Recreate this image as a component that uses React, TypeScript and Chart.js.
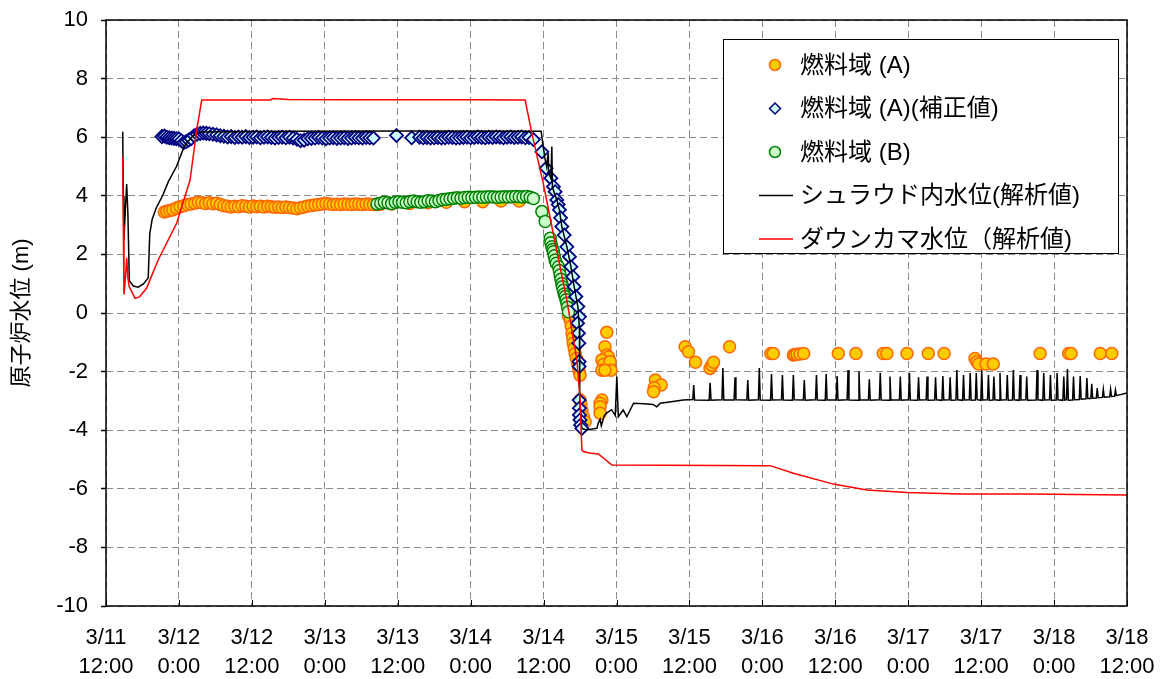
import { useEffect, useRef } from "react";
import { Chart, registerables } from "chart.js";

Chart.register(...registerables);

// x values are hours elapsed since 3/11 12:00
const xTickDates = ["3/11", "3/12", "3/12", "3/13", "3/13", "3/14", "3/14", "3/15", "3/15", "3/16", "3/16", "3/17", "3/17", "3/18", "3/18"];
const xTickTimes = ["12:00", "0:00", "12:00", "0:00", "12:00", "0:00", "12:00", "0:00", "12:00", "0:00", "12:00", "0:00", "12:00", "0:00", "12:00"];

const yAxisTitle = "原子炉水位 (m)";
const legendLabels = ["燃料域 (A)", "燃料域 (A)(補正値)", "燃料域 (B)", "シュラウド内水位(解析値)", "ダウンカマ水位（解析値)"];

// 燃料域 (A)
const fuelA: [number, number][] = [
  [9.6, 3.45], [10.0, 3.47], [10.5, 3.5], [11.0, 3.52], [11.6, 3.58], [12.2, 3.63], [12.8, 3.66], [13.4, 3.7],
  [14.0, 3.72], [14.6, 3.75], [15.2, 3.78], [15.8, 3.76], [16.4, 3.74], [17.0, 3.76], [17.6, 3.73], [18.2, 3.75],
  [18.8, 3.7], [19.4, 3.66], [20.0, 3.64], [20.6, 3.62], [21.2, 3.64], [21.8, 3.63], [22.4, 3.66], [23.0, 3.64],
  [23.6, 3.62], [24.2, 3.65], [24.8, 3.63], [25.4, 3.64], [26.0, 3.62], [26.6, 3.64], [27.2, 3.63], [27.8, 3.61],
  [28.4, 3.62], [29.0, 3.6], [29.6, 3.62], [30.2, 3.6], [30.8, 3.58], [31.4, 3.56], [32.0, 3.59], [32.6, 3.62],
  [33.2, 3.65], [33.8, 3.67], [34.4, 3.69], [35.0, 3.7], [35.6, 3.72], [36.2, 3.74], [36.8, 3.72], [37.4, 3.7],
  [38.0, 3.71], [38.6, 3.7], [39.2, 3.72], [39.8, 3.71], [40.4, 3.7], [41.0, 3.72], [41.6, 3.71], [42.2, 3.7],
  [42.8, 3.72], [43.4, 3.71], [44.0, 3.7], [44.6, 3.7], [45.2, 3.71], [47.0, 3.72], [50.0, 3.74], [53.0, 3.76],
  [56.0, 3.78], [59.0, 3.8], [62.0, 3.8], [65.0, 3.82], [68.0, 3.82],
  [76.1, -0.1], [76.4, -0.24], [76.55, -0.45], [76.7, -0.69], [76.8, -0.85], [76.9, -1.03], [77.05, -1.2],
  [77.2, -1.38], [77.4, -1.55], [77.6, -1.72], [77.75, -1.85], [77.86, -2.0], [78.0, -2.12],
  [78.0, -2.97], [78.15, -3.1], [78.3, -3.31], [78.57, -3.54], [78.84, -3.71],
  [82.4, -0.66], [82.1, -1.15], [82.4, -1.43], [82.7, -1.5], [81.6, -1.6], [81.9, -1.75], [82.96, -1.66],
  [81.6, -1.95], [83.1, -1.95], [82.1, -1.95],
  [81.6, -2.97], [81.3, -3.08], [81.3, -3.2], [81.3, -3.42],
  [90.4, -2.29], [91.35, -2.46], [90.2, -2.55], [90.1, -2.69],
  [95.3, -1.15], [95.85, -1.32], [97.0, -1.68], [99.4, -1.89], [99.7, -1.78], [99.97, -1.68], [102.6, -1.15],
  [109.4, -1.38], [109.8, -1.38], [113.1, -1.43], [113.4, -1.42], [113.7, -1.41], [114.2, -1.4], [114.8, -1.38],
  [120.5, -1.38], [123.4, -1.38], [127.9, -1.38], [128.5, -1.38], [131.8, -1.38], [135.3, -1.38], [137.9, -1.38],
  [143.0, -1.55], [143.3, -1.66], [143.6, -1.74], [144.8, -1.74], [146.0, -1.74],
  [153.7, -1.38], [158.4, -1.38], [158.8, -1.38], [163.6, -1.38], [165.5, -1.38],
];

// 燃料域 (A)(補正値)
const fuelACorrected: [number, number][] = [
  [9.2, 6.02], [9.6, 6.04], [10.0, 6.0], [10.4, 5.98], [10.8, 5.97], [11.2, 5.96], [11.6, 5.95], [12.0, 5.94],
  [12.4, 5.88], [12.8, 5.82], [13.2, 5.85], [13.6, 5.9], [14.0, 5.95], [14.5, 6.05], [15.0, 6.1], [15.5, 6.13],
  [16.0, 6.14], [16.5, 6.13], [17.0, 6.12], [17.6, 6.1], [18.2, 6.08], [18.8, 6.05], [19.4, 6.03], [20.0, 6.01],
  [20.6, 6.02], [21.2, 5.99], [21.8, 6.01], [22.4, 6.0], [23.0, 6.02], [23.6, 5.99], [24.2, 6.0], [24.8, 6.01],
  [25.4, 5.98], [26.0, 6.0], [26.6, 6.01], [27.2, 5.99], [27.8, 5.97], [28.4, 5.99], [29.0, 6.0], [29.6, 5.98],
  [30.2, 6.0], [30.8, 5.97], [31.4, 5.93], [32.0, 5.88], [32.6, 5.9], [33.2, 5.95], [33.8, 5.96], [34.4, 5.97],
  [35.0, 5.99], [35.6, 5.97], [36.2, 5.95], [36.8, 5.97], [37.4, 5.98], [38.0, 5.96], [38.6, 5.97], [39.2, 5.98],
  [39.8, 5.96], [40.4, 5.97], [41.0, 5.99], [41.6, 5.98], [42.2, 5.97], [42.8, 5.99], [43.4, 5.98], [44.0, 5.97],
  [47.8, 6.06], [50.3, 5.98], [51.6, 6.0], [52.2, 5.98], [52.8, 5.99], [53.4, 5.97], [54.0, 5.98], [54.6, 5.99],
  [55.2, 5.97], [55.8, 5.98], [56.4, 6.0], [57.0, 5.99], [57.6, 5.97], [58.2, 5.98], [58.8, 5.99], [59.4, 6.0],
  [60.0, 5.98], [60.6, 5.99], [61.2, 6.01], [61.8, 5.99], [62.4, 5.98], [63.0, 6.0], [63.6, 5.99], [64.2, 6.01],
  [64.8, 6.0], [65.4, 5.98], [66.0, 6.0], [66.6, 6.01], [67.2, 5.99], [67.8, 6.0], [68.4, 6.01], [69.0, 5.98],
  [69.6, 5.99], [70.33, 5.92],
  [71.72, 5.5], [72.42, 4.94], [73.2, 4.6], [73.63, 4.31], [73.9, 4.14], [74.18, 3.86], [74.4, 3.7], [74.6, 3.52],
  [74.8, 3.25], [75.0, 2.95], [75.4, 2.66], [75.83, 2.26], [76.26, 1.92], [76.49, 1.58], [76.82, 1.24], [77.03, 0.9],
  [77.31, 0.56], [77.64, 0.22], [77.9, -0.13], [77.6, -0.35], [77.75, -0.69], [77.8, -1.03], [77.85, -1.66],
  [77.85, -1.83], [77.85, -2.97], [77.9, -3.25], [77.9, -3.48], [78.0, -3.65], [78.1, -3.82], [78.3, -3.94],
];

// 燃料域 (B)
const fuelB: [number, number][] = [
  [44.6, 3.72], [45.2, 3.75], [45.8, 3.78], [46.4, 3.76], [47.0, 3.74], [47.6, 3.78], [48.2, 3.8], [48.8, 3.78],
  [49.4, 3.76], [50.0, 3.8], [50.6, 3.82], [51.2, 3.8], [51.8, 3.78], [52.4, 3.8], [53.0, 3.83], [53.6, 3.82],
  [54.2, 3.8], [54.8, 3.84], [55.4, 3.87], [56.0, 3.88], [56.6, 3.9], [57.2, 3.92], [57.8, 3.93], [58.4, 3.92],
  [59.0, 3.94], [59.6, 3.95], [60.2, 3.94], [60.8, 3.95], [61.4, 3.96], [62.0, 3.95], [62.6, 3.96], [63.2, 3.97],
  [63.8, 3.96], [64.4, 3.95], [65.0, 3.96], [65.6, 3.97], [66.2, 3.96], [66.8, 3.97], [67.4, 3.98], [68.0, 3.97],
  [68.6, 3.96], [69.2, 3.98], [69.8, 3.95], [70.33, 3.91],
  [71.72, 3.46], [72.26, 3.12], [73.1, 2.55], [73.2, 2.4], [73.36, 2.26], [73.5, 2.17], [73.63, 2.09],
  [73.75, 1.95], [73.9, 1.81], [74.1, 1.7], [74.45, 1.58], [74.6, 1.45], [74.73, 1.3], [74.86, 1.15],
  [75.0, 1.01], [75.1, 0.9], [75.27, 0.78], [75.4, 0.65], [75.55, 0.56], [75.7, 0.45], [75.83, 0.33],
  [75.95, 0.2], [76.1, 0.04],
];

// シュラウド内水位(解析値)
const shroudLevel: [number, number][] = [
  [2.75, 6.19], [2.85, 4.0], [2.95, 2.5], [3.2, 3.6], [3.4, 4.4], [3.6, 3.4], [3.84, 1.1], [4.5, 0.92],
  [5.3, 0.88], [6.2, 1.0], [6.95, 1.2], [7.2, 2.7], [7.6, 3.2], [8.3, 3.6], [9.3, 4.0], [10.3, 4.5],
  [11.6, 5.0], [12.9, 5.7], [14.3, 6.05], [15.5, 6.18], [30, 6.2], [50, 6.21], [71.6, 6.2], [72.0, 5.6],
  [72.2, 5.3], [72.5, 5.0], [72.75, 5.45], [72.8, 4.8], [73.2, 4.6], [73.36, 5.68], [73.45, 4.3], [74.18, 3.86],
  [74.6, 3.52], [75.0, 2.95], [75.83, 2.26], [76.5, 1.58], [77.03, 0.9], [77.64, 0.22], [77.9, -0.5],
  [77.95, -3.0], [78.3, -3.94], [79.1, -3.99], [80.8, -3.93], [81.0, -3.75], [81.3, -3.62], [81.5, -3.85],
  [82.0, -3.5], [82.4, -3.41], [83.2, -3.3], [83.8, -3.5], [84.05, -2.17], [84.3, -3.54], [85.1, -3.31],
  [85.7, -3.54], [86.8, -3.08], [88.5, -3.1], [90.0, -3.12], [90.6, -3.2], [91.2, -3.08], [93.0, -3.03],
  [95.0, -2.97], [96.55, -2.95], [96.7, -2.46], [96.85, -2.97],
  [99.25, -2.98], [99.4, -2.38], [99.55, -2.98], [101.35, -2.96], [101.5, -1.88], [101.65, -2.97],
  [103.35, -2.97], [103.5, -2.19], [103.65, -2.96], [105.45, -2.97], [105.6, -2.29], [105.75, -2.98],
  [107.35, -2.96], [107.5, -1.88], [107.65, -2.97], [109.35, -2.98], [109.5, -2.08], [109.65, -2.97],
  [111.15, -2.96], [111.3, -2.12], [111.45, -2.97], [112.95, -2.98], [113.1, -2.12], [113.25, -2.96],
  [114.75, -2.97], [114.9, -2.29], [115.05, -2.98], [116.75, -2.96], [116.9, -2.12], [117.05, -2.97],
  [118.35, -2.98], [118.5, -2.08], [118.65, -2.97], [120.15, -2.97], [120.3, -2.15], [120.45, -2.98],
  [121.95, -2.96], [122.1, -1.95], [122.25, -2.97], [123.75, -2.98], [123.9, -2.0], [124.05, -2.96],
  [125.45, -2.97], [125.6, -2.26], [125.75, -2.98], [127.25, -2.96], [127.4, -2.04], [127.55, -2.97],
  [128.85, -2.98], [129.0, -2.17], [129.15, -2.96], [130.55, -2.97], [130.7, -2.17], [130.85, -2.98],
  [132.05, -2.96], [132.2, -2.05], [132.35, -2.97], [133.55, -2.98], [133.7, -2.19], [133.85, -2.97],
  [134.95, -2.96], [135.1, -2.17], [135.25, -2.98], [136.35, -2.97], [136.5, -2.19], [136.65, -2.96],
  [137.55, -2.98], [137.7, -2.15], [137.85, -2.97], [138.75, -2.96], [138.9, -2.19], [139.05, -2.98],
  [139.85, -2.97], [140.0, -1.95], [140.15, -2.96], [140.95, -2.98], [141.1, -2.12], [141.25, -2.97],
  [142.05, -2.96], [142.2, -2.05], [142.35, -2.98], [143.05, -2.97], [143.2, -2.05], [143.35, -2.96],
  [143.95, -2.98], [144.1, -1.95], [144.25, -2.97], [145.05, -2.96], [145.2, -2.12], [145.35, -2.98],
  [145.95, -2.97], [146.1, -2.17], [146.25, -2.96], [146.95, -2.98], [147.1, -2.05], [147.25, -2.97],
  [148.15, -2.96], [148.3, -2.12], [148.45, -2.98], [149.15, -2.97], [149.3, -1.95], [149.45, -2.96],
  [150.25, -2.98], [150.4, -2.12], [150.55, -2.97], [151.35, -2.96], [151.5, -2.17], [151.65, -2.98],
  [153.05, -2.97], [153.2, -1.95], [153.35, -2.96], [154.15, -2.98], [154.3, -2.05], [154.45, -2.97],
  [155.25, -2.96], [155.4, -2.12], [155.55, -2.98], [156.35, -2.97], [156.5, -2.05], [156.65, -2.96],
  [157.45, -2.98], [157.6, -2.17], [157.75, -2.97], [158.05, -2.96], [158.2, -1.91], [158.35, -2.98],
  [159.05, -2.97], [159.2, -2.17], [159.35, -2.96], [160.15, -2.95], [160.3, -2.15], [160.45, -2.94],
  [161.25, -2.93], [161.4, -2.22], [161.55, -2.92], [162.05, -2.92], [162.2, -2.42], [162.35, -2.91],
  [162.95, -2.9], [163.1, -2.56], [163.25, -2.89], [163.95, -2.88], [164.1, -2.6], [164.25, -2.87],
  [165.15, -2.86], [165.3, -2.6], [165.45, -2.85], [165.95, -2.84], [166.1, -2.63], [166.25, -2.82],
  [168, -2.73],
];

// ダウンカマ水位(解析値)
const downcomerLevel: [number, number][] = [
  [2.75, 5.33], [2.85, 3.0], [2.96, 0.63], [3.2, 1.2], [3.41, 1.88], [3.6, 1.2], [3.84, 0.89], [4.77, 0.5],
  [5.5, 0.55], [6.7, 0.85], [7.24, 1.13], [8.56, 1.8], [11.64, 3.07], [13.83, 4.54], [14.93, 6.25], [15.75, 7.27],
  [27.0, 7.27], [27.5, 7.32], [30.0, 7.29], [40.0, 7.28], [50.0, 7.28], [60.0, 7.28], [68.97, 7.27],
  [70.07, 6.14], [71.93, 4.44], [73.58, 2.73], [75.83, 0.44], [77.48, -1.6], [78.02, -2.97], [78.3, -4.68],
  [78.57, -4.73], [79.5, -4.78], [81.03, -4.81], [83.24, -5.19], [109.3, -5.21], [113.1, -5.47],
  [119.7, -5.84], [125.2, -6.04], [131.8, -6.13], [140.6, -6.18], [151.5, -6.18], [168, -6.21],
];

const FONT = '"Liberation Sans", Arial, "Noto Sans CJK JP", sans-serif';

const COLORS = {
  aFill: "#FFCC00",
  aBorder: "#FF6600",
  corrFill: "#CCFFFF",
  corrBorder: "#000080",
  bFill: "#CCFFCC",
  bBorder: "#008000",
  shroud: "#000000",
  downcomer: "#FF0000",
};

const toPts = (arr: [number, number][]) => arr.map(([x, y]) => ({ x, y }));

const framePlugin = {
  id: "frameAndLegend",
  afterDraw(chart: any) {
    const ctx = chart.ctx as CanvasRenderingContext2D;
    const a = chart.chartArea;
    const xs = chart.scales.x;
    ctx.save();
    // inward x tick marks
    ctx.strokeStyle = "#000";
    ctx.lineWidth = 1;
    xs.ticks.forEach((t: any) => {
      const px = Math.round(xs.getPixelForValue(t.value)) + 0.5;
      ctx.beginPath();
      ctx.moveTo(px, a.bottom);
      ctx.lineTo(px, a.bottom - 6);
      ctx.stroke();
    });
    // plot frame
    ctx.lineWidth = 1.5;
    ctx.strokeRect(a.left, a.top, a.right - a.left, a.bottom - a.top);

    // legend box
    const bx = 723, by = 39, bw = 395, bh = 214;
    ctx.fillStyle = "#fff";
    ctx.fillRect(bx, by, bw, bh);
    ctx.lineWidth = 1;
    ctx.strokeStyle = "#000";
    ctx.strokeRect(bx + 0.5, by + 0.5, bw, bh);

    const rowY = [65, 108.5, 152, 195.5, 239];
    const mx = 775;
    // row 1: orange circle
    ctx.lineWidth = 1.5;
    ctx.beginPath();
    ctx.arc(mx, rowY[0], 5.5, 0, Math.PI * 2);
    ctx.fillStyle = COLORS.aFill;
    ctx.fill();
    ctx.strokeStyle = COLORS.aBorder;
    ctx.stroke();
    // row 2: diamond
    ctx.beginPath();
    ctx.moveTo(mx, rowY[1] - 5.5);
    ctx.lineTo(mx + 5.5, rowY[1]);
    ctx.lineTo(mx, rowY[1] + 5.5);
    ctx.lineTo(mx - 5.5, rowY[1]);
    ctx.closePath();
    ctx.fillStyle = COLORS.corrFill;
    ctx.fill();
    ctx.strokeStyle = COLORS.corrBorder;
    ctx.stroke();
    // row 3: green circle
    ctx.beginPath();
    ctx.arc(mx, rowY[2], 5.5, 0, Math.PI * 2);
    ctx.fillStyle = COLORS.bFill;
    ctx.fill();
    ctx.strokeStyle = COLORS.bBorder;
    ctx.stroke();
    // row 4/5: lines
    ctx.lineWidth = 1.5;
    ctx.strokeStyle = COLORS.shroud;
    ctx.beginPath();
    ctx.moveTo(759, rowY[3]);
    ctx.lineTo(793, rowY[3]);
    ctx.stroke();
    ctx.strokeStyle = COLORS.downcomer;
    ctx.beginPath();
    ctx.moveTo(759, rowY[4]);
    ctx.lineTo(793, rowY[4]);
    ctx.stroke();

    ctx.fillStyle = "#000";
    ctx.font = `24px ${FONT}`;
    ctx.textBaseline = "middle";
    ctx.textAlign = "left";
    legendLabels.forEach((lab, i) => ctx.fillText(lab, 800, rowY[i] + 1));
    ctx.restore();
  },
};

export default function App() {
  const ref = useRef<HTMLCanvasElement | null>(null);
  useEffect(() => {
    if (!ref.current) return;
    const chart = new Chart(ref.current, {
      type: "scatter",
      data: {
        datasets: [
          {
            label: legendLabels[4],
            data: toPts(downcomerLevel),
            showLine: true,
            borderColor: COLORS.downcomer,
            borderWidth: 1.5,
            pointRadius: 0,
            tension: 0,
            order: 1,
          },
          {
            label: legendLabels[3],
            data: toPts(shroudLevel),
            showLine: true,
            borderColor: COLORS.shroud,
            borderWidth: 1.5,
            pointRadius: 0,
            tension: 0,
            order: 2,
          },
          {
            label: legendLabels[1],
            data: toPts(fuelACorrected),
            pointStyle: "rectRot",
            pointRadius: 6.5,
            pointBorderWidth: 1.8,
            backgroundColor: COLORS.corrFill,
            borderColor: COLORS.corrBorder,
            order: 3,
          },
          {
            label: legendLabels[2],
            data: toPts(fuelB),
            pointStyle: "circle",
            pointRadius: 6,
            pointBorderWidth: 1.5,
            backgroundColor: COLORS.bFill,
            borderColor: COLORS.bBorder,
            order: 4,
          },
          {
            label: legendLabels[0],
            data: toPts(fuelA),
            pointStyle: "circle",
            pointRadius: 6,
            pointBorderWidth: 1.5,
            backgroundColor: COLORS.aFill,
            borderColor: COLORS.aBorder,
            order: 5,
          },
        ],
      },
      options: {
        animation: false,
        responsive: false,
        maintainAspectRatio: false,
        layout: { padding: { left: 0, right: 35, top: 20, bottom: 0 } },
        plugins: {
          legend: { display: false },
          tooltip: { enabled: false },
        },
        scales: {
          x: {
            type: "linear",
            min: 0,
            max: 168,
            afterFit: (s: any) => {
              s.height = 73;
              s.paddingLeft = 0;
              s.paddingRight = 0;
            },
            ticks: {
              stepSize: 12,
              autoSkip: false,
              maxRotation: 0,
              padding: 18,
              color: "#000",
              font: { family: FONT, size: 22, lineHeight: 1.3 },
              callback: (v: any) => {
                const i = Math.round(Number(v) / 12);
                return [xTickDates[i], xTickTimes[i]];
              },
            },
            grid: {
              color: "#8a8a8a",
              lineWidth: 1,
              drawTicks: false,
              tickBorderDash: [],
            },
            border: { display: false, dash: [7, 4] },
          },
          y: {
            type: "linear",
            min: -10,
            max: 10,
            afterFit: (s: any) => {
              s.width = 106;
              s.paddingTop = 0;
              s.paddingBottom = 0;
            },
            ticks: {
              stepSize: 2,
              padding: 13,
              color: "#000",
              font: { family: FONT, size: 22 },
            },
            grid: {
              color: "#8a8a8a",
              lineWidth: 1,
              drawTicks: true,
              tickLength: 5,
              tickColor: "#000",
              tickWidth: 1.5,
              tickBorderDash: [],
            },
            border: { display: false, dash: [7, 4] },
            title: {
              display: true,
              text: yAxisTitle,
              color: "#000",
              font: { family: FONT, size: 22 },
              padding: { top: 9, bottom: 0 },
            },
          },
        },
      },
      plugins: [framePlugin],
    });
    return () => chart.destroy();
  }, []);
  return (
    <div style={{ position: "fixed", left: 0, top: 0, width: 1162, height: 679, background: "#fff" }}>
      <canvas ref={ref} width={1162} height={679} style={{ width: 1162, height: 679 }} />
    </div>
  );
}
